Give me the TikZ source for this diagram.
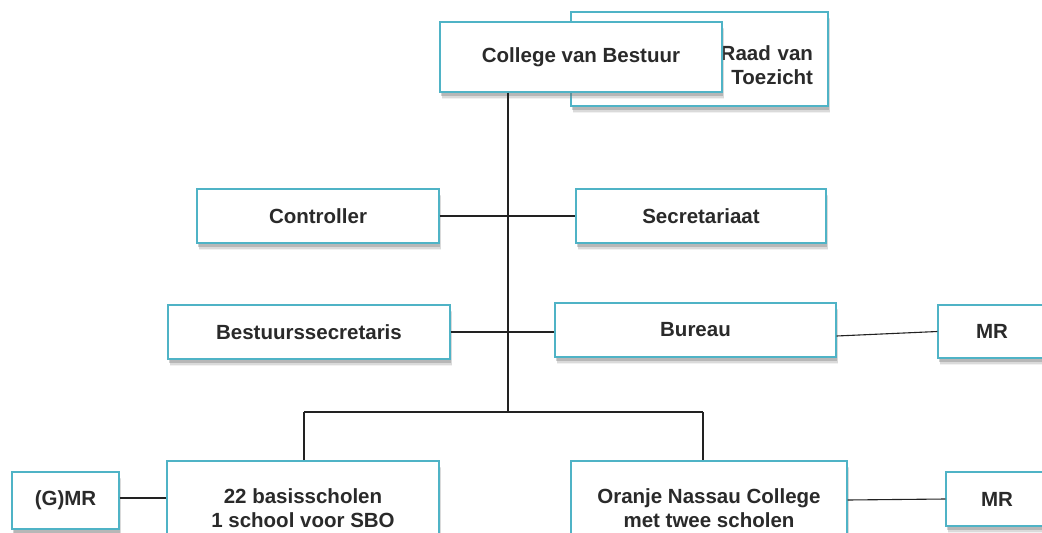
\documentclass[tikz,border=0pt]{standalone}
\usepackage{fontspec}
\setmainfont{Liberation Sans}
\usetikzlibrary{shadows}
\definecolor{boxline}{HTML}{4FB3C6}
\definecolor{txt}{HTML}{2A2A2A}
\definecolor{conn}{HTML}{222222}
\tikzset{
  orgbox/.style={draw=boxline, line width=1.1pt, fill=white, inner sep=0pt,
    font=\fontsize{20.5}{24}\selectfont\bfseries, text=txt, align=center,
    general shadow={shadow xshift=2pt, shadow yshift=-7pt, fill=black!45, opacity=0.12},
    general shadow={shadow xshift=1.5pt, shadow yshift=-5.5pt, fill=black!50, opacity=0.2},
    general shadow={shadow xshift=1pt, shadow yshift=-4pt, fill=black!60, opacity=0.3}},
  conline/.style={draw=conn, line width=1.1pt}
}
\begin{document}
\begin{tikzpicture}[x=1pt,y=-1pt]
\useasboundingbox (0,0) rectangle (1042,533);
\clip (0,0) rectangle (1042,533);
% top
\node[orgbox, minimum width=257pt, minimum height=94pt, text width=227pt, align=right] (rvt) at (699.5,59) {\raisebox{-14pt}[0pt][0pt]{\begin{tabular}{@{}r@{}}Raad van\\Toezicht\end{tabular}}};
\node[orgbox, minimum width=282pt, minimum height=70pt] (cvb) at (581,57) {College van Bestuur};
% second row
\node[orgbox, minimum width=242pt, minimum height=54pt] (ctrl) at (318,216) {Controller};
\node[orgbox, minimum width=250pt, minimum height=54pt] (sec) at (701,216) {Secretariaat};
% third row
\node[orgbox, minimum width=282pt, minimum height=54pt] (bsec) at (309,332) {Bestuurssecretaris};
\node[orgbox, minimum width=281pt, minimum height=54pt] (bur) at (695.5,330) {Bureau};
\node[orgbox, minimum width=108pt, minimum height=53pt] (mra) at (992,331.5) {MR};
% bottom
\node[orgbox, minimum width=272pt, minimum height=94pt] (bas) at (303,508) {22 basisscholen\\1 school voor SBO};
\node[orgbox, minimum width=276pt, minimum height=94pt] (onc) at (709,508) {Oranje Nassau College\\met twee scholen};
\node[orgbox, minimum width=107pt, minimum height=57pt] (gmr) at (65.5,500.5) {(G)MR};
\node[orgbox, minimum width=102pt, minimum height=54pt] (mrb) at (997,499) {MR};
% connectors
\coordinate (spine) at (508,412);
\coordinate (jl) at (304,412);
\coordinate (jr) at (703,412);
\draw[conline] (cvb.south -| spine) -- (spine);
\draw[conline] (ctrl.east) -- (sec.west);
\draw[conline] (bsec.east) -- (bsec.east -| bur.west);
\draw[conline] (bur.east |- 0,336) -- (mra.west);
\draw[conline] (jl) -- (jr);
\draw[conline] (jl) -- (jl |- bas.north);
\draw[conline] (jr) -- (jr |- onc.north);
\draw[conline] (gmr.east |- 0,498) -- (bas.west |- 0,498);
\draw[conline] (onc.east |- 0,500) -- (mrb.west);
\end{tikzpicture}
\end{document}
